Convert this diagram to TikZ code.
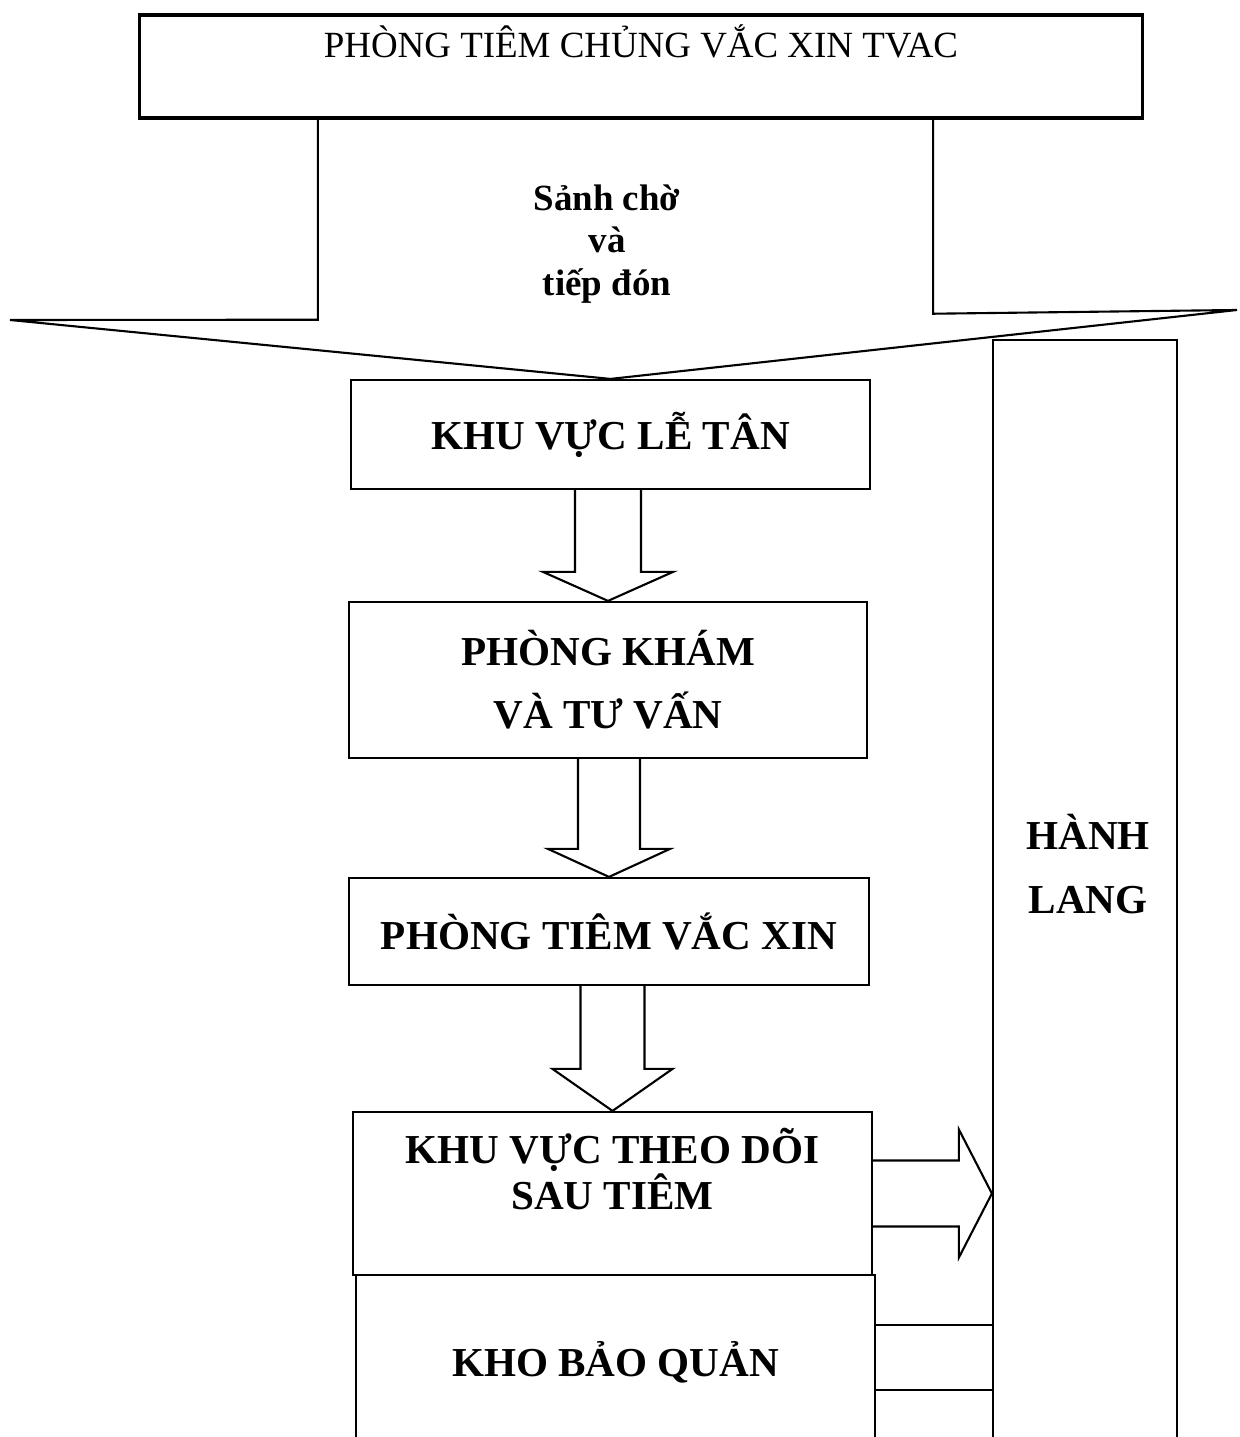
\documentclass[tikz,border=0pt]{standalone}
\usepackage{fontspec}
\setmainfont{Liberation Serif}
\usepackage{tikz}
\usetikzlibrary{positioning, calc}

\tikzset{
    roombox/.style={draw, line width=0.6pt, inner sep=0pt, align=center},
    arrowline/.style={draw, line width=0.6pt, line join=miter},
    roomtext/.style={font=\bfseries\fontsize{11.7}{18}\selectfont, align=center, inner sep=0pt}
}

% block arrow pointing down: from, to, half shaft, half head, head length
\newcommand{\blockdown}[5]{%
    \draw[arrowline] ($(#1.south -| #2.north)+(-#3,0)$) -- ($(#2.north)+(-#3,#5)$)
        -- ($(#2.north)+(-#4,#5)$) -- (#2.north) -- ($(#2.north)+(#4,#5)$)
        -- ($(#2.north)+(#3,#5)$) -- ($(#1.south -| #2.north)+(#3,0)$);}

\begin{document}
\begin{tikzpicture}[x=0.01cm, y=-0.01cm]
    \useasboundingbox (0,0) rectangle (1239,1437);

    % header box
    \node[roombox, line width=0.9pt, minimum width=10.02cm, text height=0.43cm, text depth=0.60cm,
          font=\fontsize{10.5}{12}\selectfont] (tvac) at (641,66.5) {PHÒNG TIÊM CHỦNG VẮC XIN TVAC};

    % rooms
    \node[roombox, roomtext, minimum width=5.19cm, minimum height=1.09cm] (letan) at (610.5,434.5) {KHU VỰC LỄ TÂN};
    \node[roombox, roomtext, minimum width=5.18cm, minimum height=1.56cm] (kham) at (608,680) {PHÒNG KHÁM\\VÀ TƯ VẤN};
    \node[roombox, roomtext, minimum width=5.20cm, minimum height=1.07cm] (tiem) at (609,931.5) {PHÒNG TIÊM VẮC XIN};
    \node[roombox, minimum width=5.19cm, minimum height=1.63cm] (theodoi) at (612.5,1193.5) {};
    \node[roomtext, font=\bfseries\fontsize{11.7}{13}\selectfont] (theodoitxt) at (612.5,1169) {KHU VỰC THEO DÕI\\SAU TIÊM};
    \node[roombox, roomtext, minimum width=5.19cm, minimum height=1.75cm] (kho) at (615.5,1362.5) {KHO BẢO QUẢN};

    % corridor
    \node[roombox, minimum width=1.84cm, minimum height=11.10cm] (hanhlang) at (1085,895) {};
    \node[roomtext] (hanhlangtxt) at (1088,864) {HÀNH\\LANG};

    % lobby arrow
    \coordinate (wingl) at (10,320);
    \coordinate (wingr) at (1237,310);
    \draw[arrowline] ($(tvac.south)+(-3.23cm,0)$) -- ++(0,-2.0cm) -- (wingl) -- (letan.north)
        -- (wingr) -- ($(tvac.south)+(2.92cm,-1.94cm)$) -- ($(tvac.south)+(2.92cm,0)$);
    \node[roomtext, font=\bfseries\fontsize{10.5}{12}\selectfont] (sanh) at (607,244) {Sảnh chờ\\và\\tiếp đón};

    % flow
    \blockdown{letan}{kham}{0.33cm}{0.65cm}{0.29cm}
    \blockdown{kham}{tiem}{0.31cm}{0.61cm}{0.28cm}
    \blockdown{tiem}{theodoi}{0.32cm}{0.60cm}{0.42cm}

    \coordinate (tipr) at (theodoi.east -| hanhlang.west);
    \draw[arrowline] ($(theodoi.east)+(0,0.33cm)$) -- ($(tipr)+(-0.33cm,0.33cm)$) -- ($(tipr)+(-0.33cm,0.64cm)$)
        -- (tipr) -- ($(tipr)+(-0.33cm,-0.64cm)$) -- ($(tipr)+(-0.33cm,-0.33cm)$) -- ($(theodoi.east)+(0,-0.33cm)$);

    \draw[arrowline] ($(kho.east)+(0,0.375cm)$) -- ($(kho.east -| hanhlang.west)+(0,0.375cm)$);
    \draw[arrowline] ($(kho.east)+(0,-0.275cm)$) -- ($(kho.east -| hanhlang.west)+(0,-0.275cm)$);
\end{tikzpicture}
\end{document}
